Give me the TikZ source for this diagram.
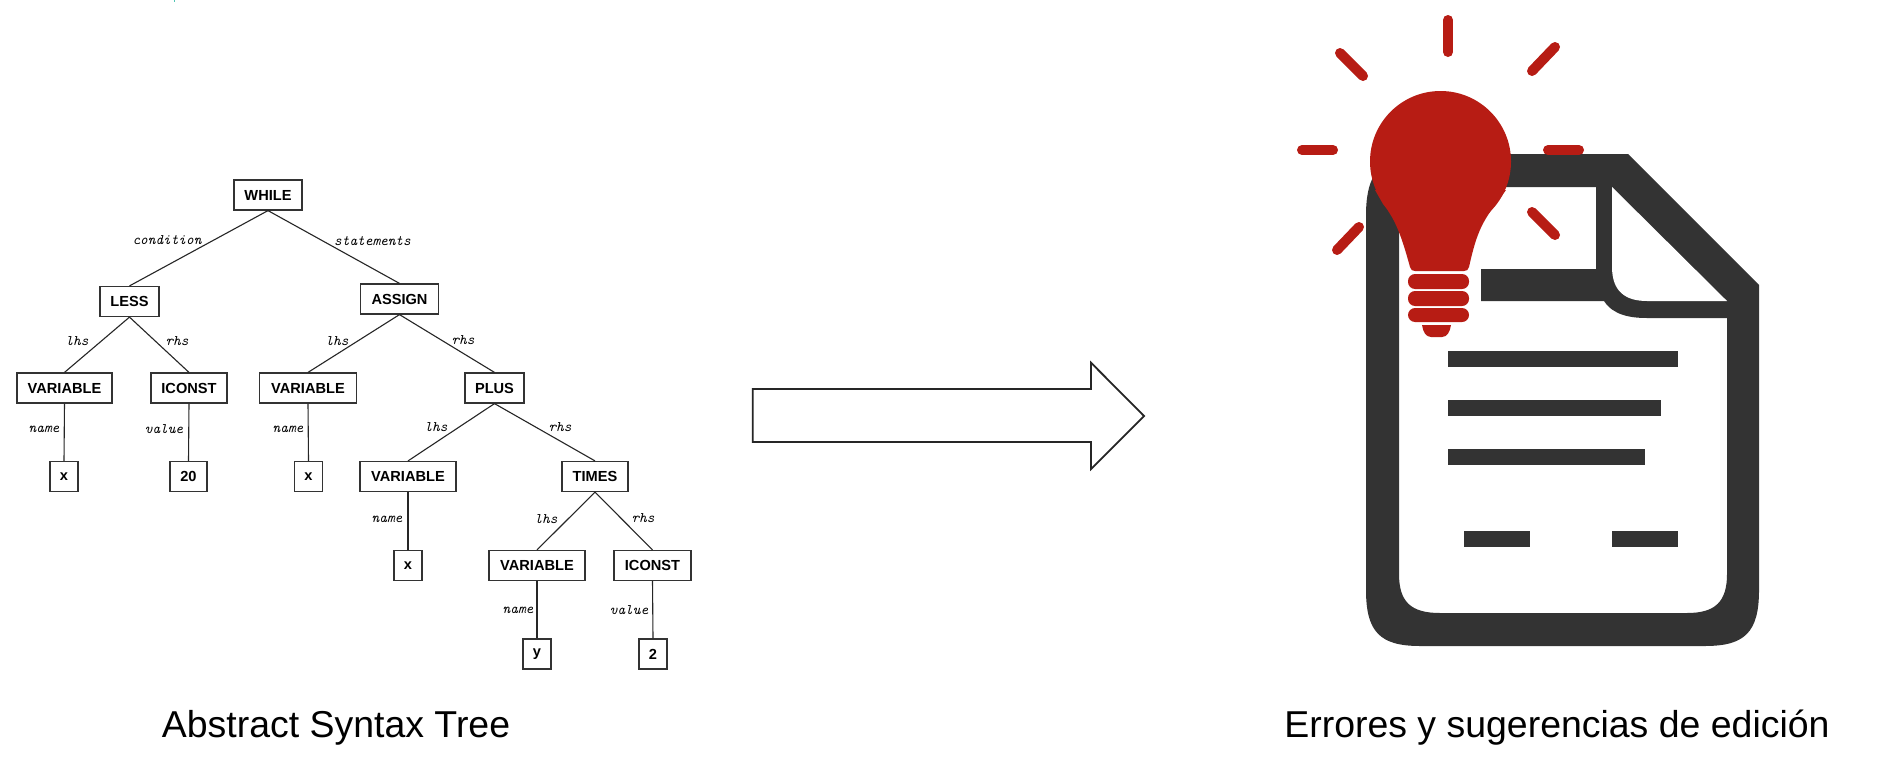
\documentclass[tikz,border=0pt]{standalone}
\usepackage{fontspec}
\setmainfont{Liberation Sans}
\definecolor{docdark}{HTML}{333333}
\definecolor{bulbred}{HTML}{B71C14}
\definecolor{tickteal}{HTML}{4FC4B4}
\tikzset{
  treebox/.style={draw=black!80,line width=0.6pt,fill=white,inner sep=0pt,font=\fontsize{7.3}{9}\selectfont\bfseries},
  edgeline/.style={draw=black!85,line width=0.55pt},
  edgelabel/.style={inner sep=0pt,font=\fontsize{7.3}{9}\ttfamily\itshape,text=black},
  caption/.style={inner sep=0pt,anchor=base,font=\fontsize{18.72}{22}\selectfont},
  ray/.style={draw=bulbred,line width=5pt,line cap=round},
  docline/.style={fill=docdark},
  bulbfill/.style={fill=bulbred},
  bigarrow/.style={draw=black!85,line width=0.9pt,fill=white,miter limit=10}
}
\begin{document}
\begin{tikzpicture}[x=0.5pt,y=-0.5pt]
\useasboundingbox (0,0) rectangle (1883,771);
\fill[white] (0,0) rectangle (1883,771);
\fill[tickteal] (174,0) rectangle (175,2);

% tree nodes
\newcommand{\tbox}[6]{\node[treebox,minimum width=#4*0.5pt,minimum height=#5*0.5pt] (#1) at (#2,#3) {#6};}
\tbox{while}{268}{195}{68}{30}{WHILE}
\tbox{less}{129.5}{301.5}{59}{30}{LESS}
\tbox{assign}{399.5}{299}{78}{30}{ASSIGN}
\tbox{varA}{64.5}{388}{95}{30}{VARIABLE}
\tbox{iconstA}{189}{388}{76}{30}{ICONST}
\tbox{varB}{308}{388}{97}{30}{VARIABLE}
\tbox{plus}{494.5}{388}{59}{30}{PLUS}
\tbox{xA}{64}{476.5}{28}{30}{x}
\tbox{twenty}{188.5}{476.5}{37}{30}{20}
\tbox{xB}{308.5}{476.5}{28}{30}{x}
\tbox{varC}{408}{476.5}{96}{30}{VARIABLE}
\tbox{times}{595}{476.5}{66}{30}{TIMES}
\tbox{xC}{408}{565.5}{28}{30}{x}
\tbox{varD}{537}{565.5}{96}{30}{VARIABLE}
\tbox{iconstB}{652.5}{565.5}{77}{30}{ICONST}
\tbox{yA}{537}{654}{28}{30}{y}
\tbox{two}{653}{654}{28}{30}{2}

% tree connectors
\draw[edgeline] (while.south) -- (less.north);
\draw[edgeline] (while.south) -- (assign.north);
\draw[edgeline] (less.south) -- (varA.north);
\draw[edgeline] (less.south) -- (iconstA.north);
\draw[edgeline] (assign.south) -- (varB.north);
\draw[edgeline] (assign.south) -- (plus.north);
\draw[edgeline] (varA.south) -- (xA.north);
\draw[edgeline] (iconstA.south) -- (twenty.north);
\draw[edgeline] (varB.south) -- (xB.north);
\draw[edgeline] (plus.south) -- (varC.north);
\draw[edgeline] (plus.south) -- (times.north);
\draw[edgeline] (varC.south) -- (xC.north);
\draw[edgeline] (times.south) -- (varD.north);
\draw[edgeline] (times.south) -- (iconstB.north);
\draw[edgeline] (varD.south) -- (yA.north);
\draw[edgeline] (iconstB.south) -- (two.north);

% edge labels
\node[edgelabel] (lblCond) at (167,240) {condition};
\node[edgelabel] (lblStat) at (372.5,241) {statements};
\node[edgelabel] (lblLhsA) at (77,341) {lhs};
\node[edgelabel] (lblRhsA) at (177,341) {rhs};
\node[edgelabel] (lblLhsB) at (337,341) {lhs};
\node[edgelabel] (lblRhsB) at (463,340) {rhs};
\node[edgelabel] (lblNameA) at (44,429) {name};
\node[edgelabel] (lblValA) at (164,429) {value};
\node[edgelabel] (lblNameB) at (288,429) {name};
\node[edgelabel] (lblLhsC) at (436,427) {lhs};
\node[edgelabel] (lblRhsC) at (560,427) {rhs};
\node[edgelabel] (lblNameC) at (387,519) {name};
\node[edgelabel] (lblLhsD) at (546,519) {lhs};
\node[edgelabel] (lblRhsD) at (643,518) {rhs};
\node[edgelabel] (lblNameD) at (518,610) {name};
\node[edgelabel] (lblValB) at (629,610) {value};

% big arrow
\draw[bigarrow] (752.7,389) -- (1091,389) -- (1091,362.7) -- (1144,416) -- (1091,469) -- (1091,442) -- (752.7,442) -- cycle;

% captions
\node[caption] (capL) at (336,737) {Abstract Syntax Tree};
\node[caption] (capR) at (1557,737) {Errores y sugerencias de edición};

% document icon
\fill[docdark,even odd rule]
  (1366,215) .. controls (1366,175) and (1380,154) .. (1420,154) -- (1628,154) -- (1759,285) -- (1759,590)
  .. controls (1759,632) and (1745,646) .. (1705,646) -- (1420,646)
  .. controls (1380,646) and (1366,632) .. (1366,590) -- cycle
  (1399,215) .. controls (1399,195) and (1410,187) .. (1430,187) -- (1596,187) -- (1596,269) -- (1481,269) -- (1481,301) -- (1604,301)
  .. controls (1613,315) and (1630,318) .. (1647,318) -- (1727,318) -- (1727,574)
  .. controls (1727,602) and (1715,613) .. (1687,613) -- (1440,613)
  .. controls (1411,613) and (1399,602) .. (1399,574) -- cycle;
\fill[white] (1612,187) -- (1612,267) .. controls (1612,291) and (1625,301) .. (1647,301) -- (1727,301) -- cycle;
\fill[docline] (1448,351) rectangle (1678,367);
\fill[docline] (1448,400) rectangle (1661,416);
\fill[docline] (1448,449) rectangle (1645,465);
\fill[docline] (1464,531) rectangle (1530,547);
\fill[docline] (1612,531) rectangle (1678,547);

% rays
\draw[ray] (1448,20) -- (1448,52);
\draw[ray] (1340,53) -- (1363,76);
\draw[ray] (1555,47) -- (1532,71);
\draw[ray] (1302,150) -- (1333,150);
\draw[ray] (1548,150) -- (1579,150);
\draw[ray] (1532,212) -- (1555,235);
\draw[ray] (1359,227) -- (1337,250);

% bulb
\fill[bulbfill] (1440.5,161.5) circle [radius=70.5];
\fill[bulbfill] (1375,190) -- (1383,204) .. controls (1396,220) and (1402,238) .. (1410,267)
  .. controls (1411,270) and (1412,271) .. (1415,271) -- (1464,271)
  .. controls (1467,271) and (1468,270) .. (1469,267)
  .. controls (1475,240) and (1480,225) .. (1493,208) -- (1506,190) -- cycle;
\fill[bulbfill,rounded corners=3.5pt] (1408,274) rectangle (1469,289);
\fill[bulbfill,rounded corners=3.5pt] (1408,291) rectangle (1469,306);
\fill[bulbfill,rounded corners=3.5pt] (1408,308) rectangle (1469,322);
\fill[bulbfill] (1422,325) -- (1451,325) .. controls (1450,332) and (1447,337) .. (1442,337) -- (1431,337) .. controls (1426,337) and (1423,332) .. (1422,325) -- cycle;
\end{tikzpicture}
\end{document}
